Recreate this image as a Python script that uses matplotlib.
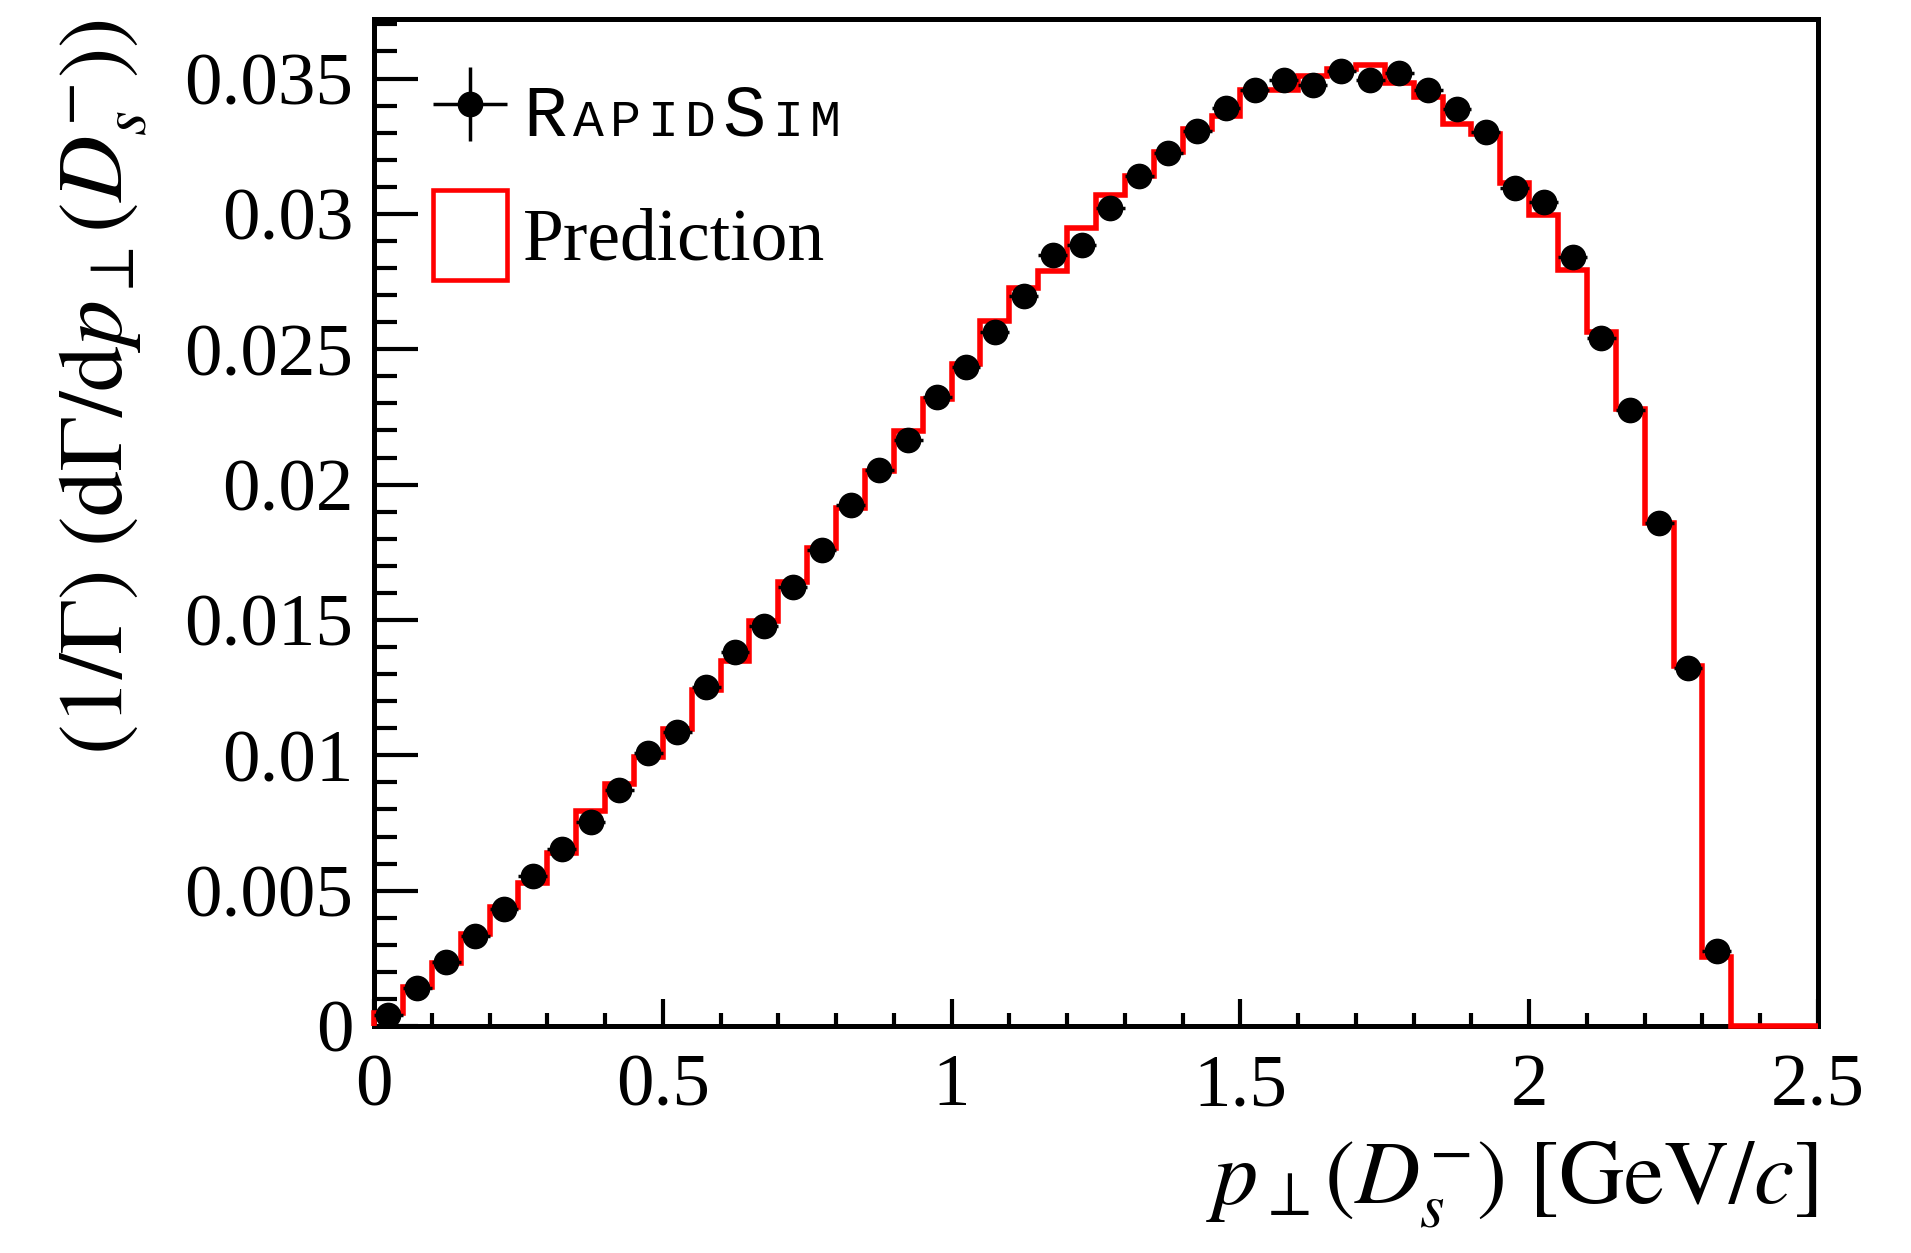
import numpy as np
import matplotlib
matplotlib.use("Agg")
import matplotlib.pyplot as plt
from matplotlib.ticker import MultipleLocator, FuncFormatter
from matplotlib.patches import Patch
from matplotlib.offsetbox import TextArea, HPacker, AnchoredOffsetbox

plt.rcParams['font.family'] = ['Liberation Serif', 'DejaVu Serif']
plt.rcParams['mathtext.fontset'] = 'stix'

# ---------------- data ----------------
BIN_LO, BIN_HI, N_BINS = 0.0, 2.5, 50

rapidsim = [0.00041, 0.00140, 0.00237, 0.00331, 0.00432, 0.00554, 0.00653, 0.00752,
            0.00872, 0.01007, 0.01085, 0.01252, 0.01380, 0.01477, 0.01620, 0.01757,
            0.01923, 0.02055, 0.02163, 0.02322, 0.02433, 0.02564, 0.02695, 0.02850,
            0.02886, 0.03022, 0.03140, 0.03225, 0.03305, 0.03392, 0.03457, 0.03494,
            0.03478, 0.03527, 0.03496, 0.03521, 0.03457, 0.03389, 0.03302, 0.03096,
            0.03045, 0.02840, 0.02543, 0.02274, 0.01860, 0.01322, 0.00276]
rapidsim_yerr = 0.00015

prediction = [0.00047, 0.00145, 0.00234, 0.00339, 0.00441, 0.00527, 0.00638, 0.00796,
              0.00893, 0.00995, 0.01097, 0.01242, 0.01349, 0.01496, 0.01642, 0.01766,
              0.01913, 0.02049, 0.02197, 0.02317, 0.02447, 0.02603, 0.02727, 0.02788,
              0.02948, 0.03070, 0.03139, 0.03228, 0.03314, 0.03363, 0.03457, 0.03459,
              0.03509, 0.03536, 0.03551, 0.03484, 0.03432, 0.03333, 0.03297, 0.03115,
              0.02995, 0.02791, 0.02565, 0.02281, 0.01860, 0.01329, 0.00254, 0.0,
              0.0, 0.0]

legend_labels = ["RapidSim", "Prediction"]
x_label = r"$p_{\perp}\mathrm{(}D_s^{-}\mathrm{)\ [GeV/}c\mathrm{]}$"
y_label = r"$\mathrm{(1/\Gamma)\ (d\Gamma/d}p_{\perp}\mathrm{(}D_s^{-}\mathrm{))}$"
Y_MAX = 0.0372

# ---------------- derived ----------------
edges = np.linspace(BIN_LO, BIN_HI, N_BINS + 1)
centers = 0.5 * (edges[:-1] + edges[1:])
half = 0.5 * np.diff(edges)
n = len(rapidsim)

W, H = 1911, 1253
fig = plt.figure(figsize=(W / 100, H / 100), dpi=100)
ax = fig.add_axes([374 / W, 1 - 1026 / H, (1818 - 374) / W, (1026 - 19) / H])

ax.stairs(prediction, edges, color='red', lw=4.0, zorder=3, clip_on=False)
eb = ax.errorbar(centers[:n], rapidsim, xerr=half[:n], yerr=rapidsim_yerr, fmt='o',
                 color='black', ms=17.5, elinewidth=2.5, capsize=0, zorder=4)

ax.set_xlim(BIN_LO, BIN_HI)
ax.set_ylim(0, Y_MAX)

ax.xaxis.set_major_locator(MultipleLocator(0.5))
ax.xaxis.set_minor_locator(MultipleLocator(0.1))
ax.yaxis.set_major_locator(MultipleLocator(0.005))
ax.yaxis.set_minor_locator(MultipleLocator(0.001))
fmt = FuncFormatter(lambda v, p: "%g" % round(v, 6))
ax.xaxis.set_major_formatter(fmt)
ax.yaxis.set_major_formatter(fmt)

ax.tick_params(axis='y', which='major', direction='in', length=32, width=3,
               labelsize=54, pad=15, right=False)
ax.tick_params(axis='y', which='minor', direction='in', length=16.5, width=3, right=False)
ax.tick_params(axis='x', which='major', direction='in', length=19.5, width=3,
               labelsize=54, pad=20, top=False)
ax.tick_params(axis='x', which='minor', direction='in', length=9.4, width=3, top=False)
for s in ax.spines.values():
    s.set_linewidth(3.6)

ax.set_xlabel(x_label, fontsize=65, loc='right')
ax.xaxis.set_label_coords(1.0, -0.113)
ax.set_ylabel(y_label, fontsize=66, loc='top')
ax.yaxis.set_label_coords(-0.1555, 1.0)

# legend
handles = [eb, Patch(facecolor='none', edgecolor='red', lw=3.3)]
leg = ax.legend(handles, [" ", legend_labels[1]], loc='upper left',
                bbox_to_anchor=(0.0409, 0.950), borderaxespad=0, borderpad=0,
                frameon=False, fontsize=53, handlelength=1.0, handleheight=1.5,
                handletextpad=0.22, labelspacing=0.42)

# small-caps "RapidSim"
word = legend_labels[0]
parts = []
for ch in word:
    big = ch.isupper()
    parts.append(TextArea(ch.upper(), textprops=dict(family='Liberation Mono',
                                                       fontsize=52 if big else 37)))
box = HPacker(children=parts, align='baseline', pad=0, sep=4.7)
anch = AnchoredOffsetbox(loc='center left', child=box, pad=0, borderpad=0,
                         bbox_to_anchor=(0.1032, 0.903), bbox_transform=ax.transAxes,
                         frameon=False)
ax.add_artist(anch)

fig.savefig("out.png", dpi=100)
